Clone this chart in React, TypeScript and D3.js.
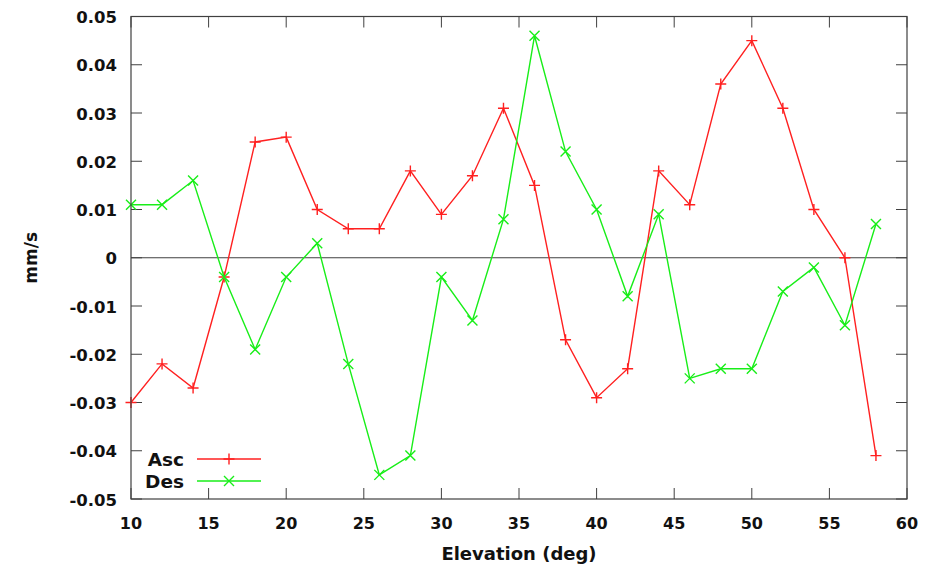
import React from 'react';
import * as d3 from 'd3';

const width = 940;
const height = 567;
const margin = { top: 16.5, right: 33, bottom: 68, left: 131 };

// elevation bins (deg)
const elevation = [10, 12, 14, 16, 18, 20, 22, 24, 26, 28, 30, 32, 34, 36, 38, 40, 42, 44, 46, 48, 50, 52, 54, 56, 58];
// mm/s
const ascValues = [-0.030, -0.022, -0.027, -0.004, 0.024, 0.025, 0.010, 0.006, 0.006, 0.018, 0.009, 0.017, 0.031, 0.015, -0.017, -0.029, -0.023, 0.018, 0.011, 0.036, 0.045, 0.031, 0.010, 0.000, -0.041];
const desValues = [0.011, 0.011, 0.016, -0.004, -0.019, -0.004, 0.003, -0.022, -0.045, -0.041, -0.004, -0.013, 0.008, 0.046, 0.022, 0.010, -0.008, 0.009, -0.025, -0.023, -0.023, -0.007, -0.002, -0.014, 0.007];

const xTicks = [10, 15, 20, 25, 30, 35, 40, 45, 50, 55, 60];
const yTicks = [-0.05, -0.04, -0.03, -0.02, -0.01, 0, 0.01, 0.02, 0.03, 0.04, 0.05];

const seriesNames = ['Asc', 'Des'];
const seriesColors = ['#ff2020', '#18ee18'];

const font = '"DejaVu Sans", Verdana, sans-serif';
const axisColor = '#404040';

function Marker({ kind, cx, cy, color }: { kind: number; cx: number; cy: number; color: string }) {
    if (kind === 0) {
        const s = 5.5;
        return (
            <path d={`M${cx - s},${cy}H${cx + s}M${cx},${cy - s}V${cy + s}`}
                stroke={color} strokeWidth={1.4} fill="none" />
        );
    }
    const t = 5;
    return (
        <path d={`M${cx - t},${cy - t}L${cx + t},${cy + t}M${cx - t},${cy + t}L${cx + t},${cy - t}`}
            stroke={color} strokeWidth={1.4} fill="none" />
    );
}

export default function App() {
    const x = d3.scaleLinear().domain([10, 60]).range([margin.left, width - margin.right]);
    const y = d3.scaleLinear().domain([-0.05, 0.05]).range([height - margin.bottom, margin.top]);

    const line = d3.line<number>()
        .x((d, i) => x(elevation[i]))
        .y(d => y(d));

    const series = [ascValues, desValues];
    const x0 = margin.left, x1 = width - margin.right;
    const y0 = margin.top, y1 = height - margin.bottom;
    const tick = 11;

    const fmtY = (v: number) => (v === 0 ? '0' : v.toFixed(2));

    return (
        <svg width={width} height={height}
            style={{ position: 'absolute', left: 0, top: 0, background: '#fff' }}>
            {/* zero line */}
            <line x1={x0} x2={x1} y1={y(0)} y2={y(0)} stroke={axisColor} strokeWidth={1} />

            {/* ticks, mirrored on all sides */}
            {xTicks.map(t => (
                <g key={'xt' + t}>
                    <line x1={x(t)} x2={x(t)} y1={y1} y2={y1 - tick} stroke={axisColor} />
                    <line x1={x(t)} x2={x(t)} y1={y0} y2={y0 + tick} stroke={axisColor} />
                    <text x={x(t)} y={529} textAnchor="middle" fontFamily={font}
                        fontWeight="bold" fontSize={16} fill="#111">{t}</text>
                </g>
            ))}
            {yTicks.map(t => (
                <g key={'yt' + t}>
                    <line x1={x0} x2={x0 + tick} y1={y(t)} y2={y(t)} stroke={axisColor} />
                    <line x1={x1} x2={x1 - tick} y1={y(t)} y2={y(t)} stroke={axisColor} />
                    <text x={117} y={y(t) + 6.5} textAnchor="end" fontFamily={font}
                        fontWeight="bold" fontSize={16.5} fill="#111">{fmtY(t)}</text>
                </g>
            ))}

            {/* data */}
            {series.map((vals, k) => (
                <g key={'s' + k}>
                    <path d={line(vals) || ''} fill="none" stroke={seriesColors[k]} strokeWidth={1.4} />
                    {vals.map((v, i) => (
                        <Marker key={i} kind={k} cx={x(elevation[i])} cy={y(v)} color={seriesColors[k]} />
                    ))}
                </g>
            ))}

            {/* frame */}
            <rect x={x0} y={y0} width={x1 - x0} height={y1 - y0} fill="none" stroke={axisColor} strokeWidth={1.2} />

            {/* legend */}
            {seriesNames.map((name, k) => {
                const ly = 459 + k * 22;
                return (
                    <g key={'lg' + k}>
                        <text x={184} y={ly + 6.5} textAnchor="end" fontFamily={font} fontWeight="bold"
                            fontSize={18.5} fill="#111">{name}</text>
                        <line x1={197} x2={261} y1={ly} y2={ly} stroke={seriesColors[k]} strokeWidth={1.4} />
                        <Marker kind={k} cx={229} cy={ly} color={seriesColors[k]} />
                    </g>
                );
            })}

            {/* axis labels */}
            <text x={519} y={560} textAnchor="middle" fontFamily={font} fontWeight="bold"
                fontSize={18} fill="#111">Elevation (deg)</text>
            <text transform={`translate(37,${y(0)}) rotate(-90)`} textAnchor="middle" fontFamily={font}
                fontWeight="bold" fontSize={17} fill="#111">mm/s</text>
        </svg>
    );
}
